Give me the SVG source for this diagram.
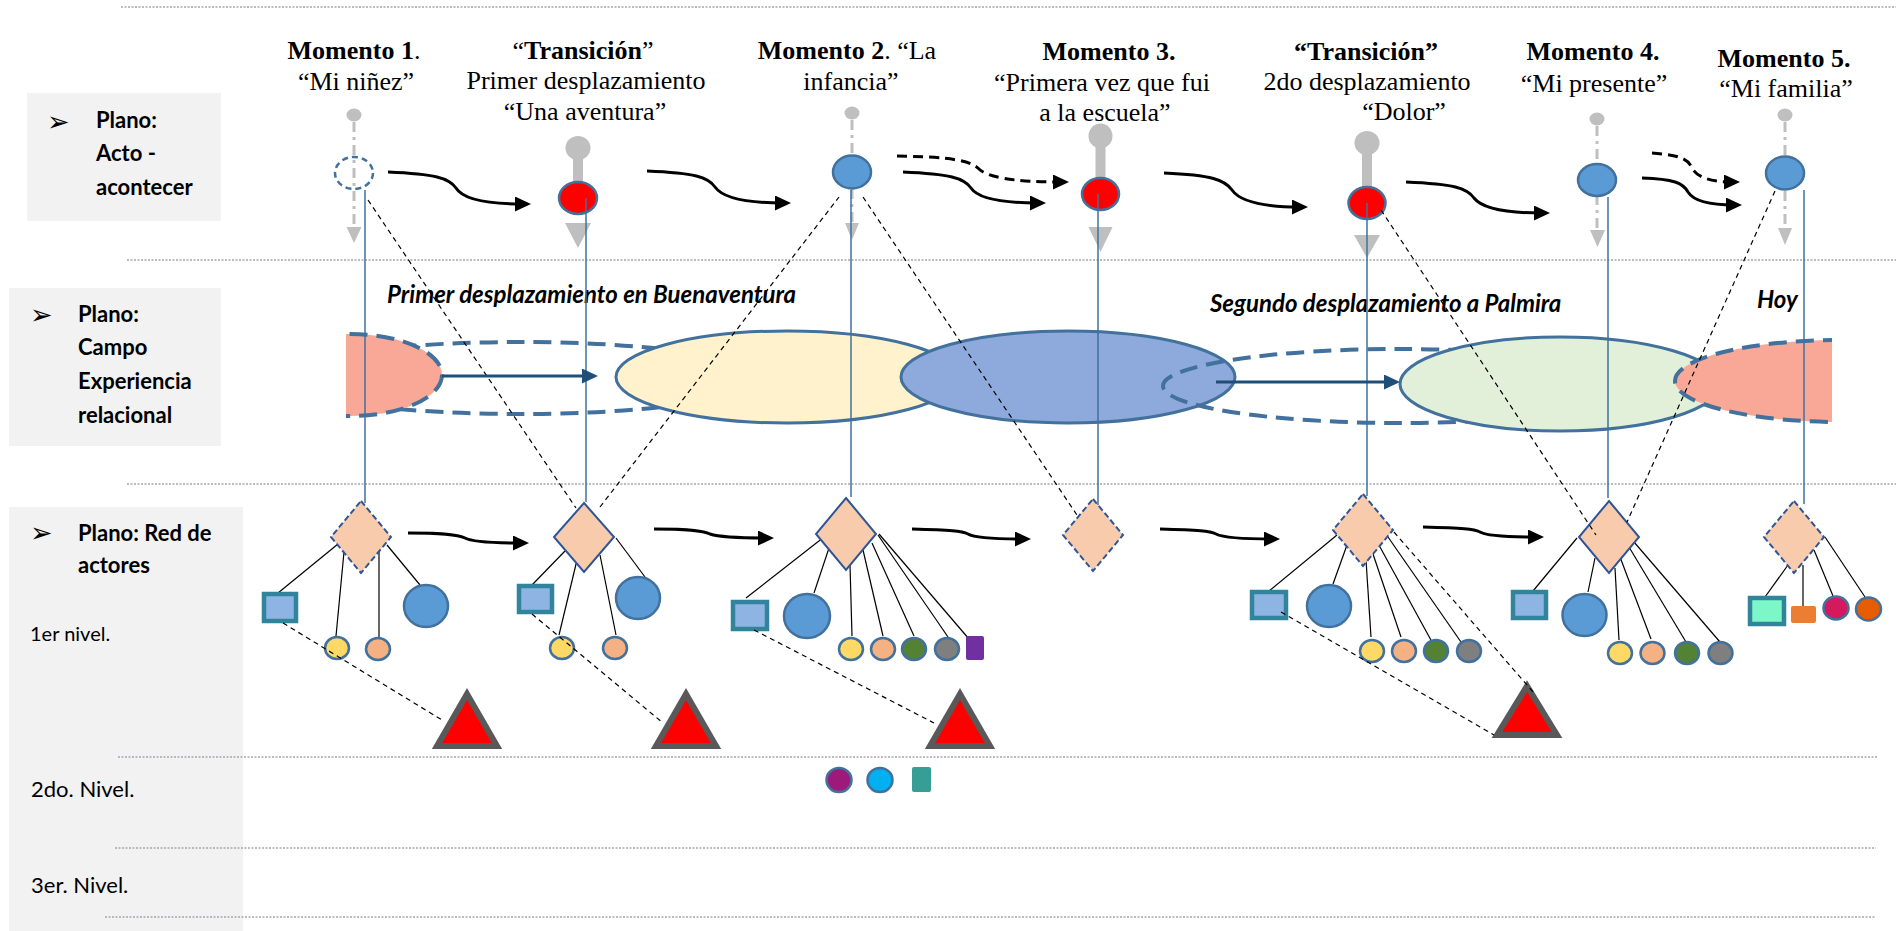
<svg xmlns="http://www.w3.org/2000/svg" width="1904" height="931" viewBox="0 0 1904 931">
<style>
.sep{stroke:#a3a7b0;stroke-width:1.3;stroke-dasharray:2 1.5;fill:none}
.panel{fill:#f2f2f2}
.side{font-family:Lato,"Liberation Sans",sans-serif;font-weight:bold;font-size:22px;fill:#000}
.lvl{font-family:Lato,"Liberation Sans",sans-serif;font-size:22px;fill:#000}
.bul{font-family:"DejaVu Sans",sans-serif;font-size:27px;fill:#000}
.hd{font-family:"Liberation Serif",serif;font-size:26px;text-anchor:middle;fill:#000}
.b{font-weight:bold}
.lab{font-family:Lato,"Liberation Sans",sans-serif;font-weight:bold;font-style:italic;font-size:24px;fill:#000}
.pinl{stroke:#bfbfbf;stroke-width:3;stroke-dasharray:10 5 3 5;fill:none}
.pin{fill:#bfbfbf}
.nR{fill:#ff0000;stroke:#41719c;stroke-width:2.5}
.nB{fill:#5b9bd5;stroke:#41719c;stroke-width:2.5}
.nD{fill:none;stroke:#41719c;stroke-width:2.5;stroke-dasharray:6 4}
.flow{fill:none;stroke:#000;stroke-width:3;marker-end:url(#ah)}
.fd{stroke-dasharray:10 6}
.bflow{fill:none;stroke:#1f4e79;stroke-width:3;marker-end:url(#ahb)}
.vl{stroke:#41719c;stroke-width:1.5;fill:none}
.tie{stroke:#000;stroke-width:1.2;fill:none}
.dl{stroke:#000;stroke-width:1.2;stroke-dasharray:5 4;fill:none}
.dia{fill:#f8cbad;stroke:#2f5597;stroke-width:2}
.dd{stroke-dasharray:6 3}
.sq{fill:#8eb4e3;stroke:#31849b;stroke-width:4.5}
.sm{stroke:#41719c;stroke-width:2.5}
.tri{fill:#ff0000;stroke:#595959;stroke-width:6;stroke-linejoin:miter}
.field{stroke:#41719c;stroke-width:3}
.fdash{fill:none;stroke:#41719c;stroke-width:4;stroke-dasharray:18 9}
</style>
<defs>
<marker id="ah" markerUnits="userSpaceOnUse" viewBox="0 0 16 15" markerWidth="16" markerHeight="15" refX="8" refY="7.5" orient="auto"><path d="M0 0 L16 7.5 L0 15 Z" fill="#000"/></marker>
<marker id="ahb" markerUnits="userSpaceOnUse" viewBox="0 0 16 15" markerWidth="16" markerHeight="15" refX="8" refY="7.5" orient="auto"><path d="M0 0 L16 7.5 L0 15 Z" fill="#1f4e79"/></marker>
<clipPath id="fieldclip"><rect x="346" y="300" width="1486" height="160"/></clipPath>
</defs>

<!-- side panels -->
<g id="panel-acto">
<rect class="panel" x="27" y="93" width="194" height="128"/>
<text class="bul" x="47" y="131">➢</text>
<text class="side" x="96" y="128">Plano:</text>
<text class="side" x="96" y="161">Acto -</text>
<text class="side" x="96" y="195">acontecer</text>
</g>
<g id="panel-campo">
<rect class="panel" x="9" y="288" width="212" height="158"/>
<text class="bul" x="30" y="324">➢</text>
<text class="side" x="78" y="322">Plano:</text>
<text class="side" x="78" y="355">Campo</text>
<text class="side" x="78" y="389">Experiencia</text>
<text class="side" x="78" y="423">relacional</text>
</g>
<g id="panel-red">
<rect class="panel" x="9" y="507" width="234" height="424"/>
<text class="bul" x="30" y="542">➢</text>
<text class="side" x="78" y="541">Plano: Red de</text>
<text class="side" x="78" y="573">actores</text>
<text class="lvl" x="30" y="641" style="font-size:20px">1er nivel.</text>
<text class="lvl" x="31" y="797">2do. Nivel.</text>
<text class="lvl" x="31" y="893">3er. Nivel.</text>
</g>

<!-- row separators -->
<g id="separators">
<line class="sep" x1="121" y1="7" x2="1896" y2="7"/>
<line class="sep" x1="127" y1="260" x2="1896" y2="260"/>
<line class="sep" x1="127" y1="484" x2="1896" y2="484"/>
<line class="sep" x1="118" y1="757" x2="1878" y2="757"/>
<line class="sep" x1="115" y1="848" x2="1876" y2="848"/>
<line class="sep" x1="105" y1="917" x2="1876" y2="917"/>
</g>

<!-- moment headings -->
<g id="headings">
<text class="hd" x="354" y="59"><tspan class="b">Momento 1</tspan>.</text>
<text class="hd" x="356" y="90">“Mi niñez”</text>
<text class="hd" x="583" y="59">“<tspan class="b">Transición</tspan>”</text>
<text class="hd" x="586" y="89">Primer desplazamiento</text>
<text class="hd" x="585" y="120">“Una aventura”</text>
<text class="hd" x="847" y="59"><tspan class="b">Momento 2</tspan>. “La</text>
<text class="hd" x="851" y="90">infancia”</text>
<text class="hd b" x="1109" y="60">Momento 3.</text>
<text class="hd" x="1102" y="91">“Primera vez que fui</text>
<text class="hd" x="1105" y="121">a la escuela”</text>
<text class="hd b" x="1366" y="60">“Transición”</text>
<text class="hd" x="1367" y="90">2do desplazamiento</text>
<text class="hd" x="1404" y="120">“Dolor”</text>
<text class="hd b" x="1593" y="60">Momento 4.</text>
<text class="hd" x="1594" y="92">“Mi presente”</text>
<text class="hd b" x="1784" y="67">Momento 5.</text>
<text class="hd" x="1786" y="97">“Mi familia”</text>
</g>

<!-- relational field plane -->
<g id="field" clip-path="url(#fieldclip)">
<ellipse class="fdash" cx="520" cy="378" rx="240" ry="36"/>
<ellipse cx="350" cy="375" rx="92" ry="41" fill="#f9a898" stroke="#41719c" stroke-width="4" stroke-dasharray="18 9"/>
<ellipse class="field" cx="787" cy="377" rx="171" ry="46" fill="#fff2cc"/>
<ellipse class="field" cx="1068" cy="377" rx="167" ry="46" fill="#8ea9db"/>
<ellipse class="fdash" cx="1400" cy="386" rx="237" ry="37"/>
<ellipse class="field" cx="1560" cy="384" rx="160" ry="47" fill="#e2f0d9"/>
<ellipse cx="1840" cy="381" rx="165" ry="41" fill="#f9a898" stroke="#41719c" stroke-width="4" stroke-dasharray="18 9"/>
</g>
<g id="field-labels">
<text class="lab" x="387" y="303">Primer desplazamiento en Buenaventura</text>
<text class="lab" x="1210" y="312">Segundo desplazamiento a Palmira</text>
<text class="lab" x="1757" y="308">Hoy</text>
</g>

<!-- event pins -->
<g id="pins">
<line class="pinl" x1="354" y1="122" x2="354" y2="226"/>
<ellipse class="pin" cx="354" cy="115" rx="7.5" ry="6.5"/>
<polygon class="pin" points="346.5,227 361.5,227 354,243"/>
<line class="pinl" x1="852" y1="120" x2="852" y2="222"/>
<ellipse class="pin" cx="852" cy="113" rx="7.5" ry="6.5"/>
<polygon class="pin" points="845,223 859,223 852,240"/>
<line class="pinl" x1="1597" y1="126" x2="1597" y2="229"/>
<ellipse class="pin" cx="1597" cy="119" rx="7.5" ry="6.5"/>
<polygon class="pin" points="1590,230 1605,230 1597.5,247"/>
<line class="pinl" x1="1785" y1="122" x2="1785" y2="227"/>
<ellipse class="pin" cx="1785" cy="115" rx="7.5" ry="6.5"/>
<polygon class="pin" points="1778,228 1792,228 1785,245"/>
<ellipse class="pin" cx="578" cy="148" rx="12.5" ry="12"/>
<rect class="pin" x="573" y="158" width="10" height="26"/>
<polygon class="pin" points="565,223 591,223 578,248"/>
<ellipse class="pin" cx="1100.5" cy="136" rx="12" ry="12.5"/>
<rect class="pin" x="1095.5" y="146" width="10" height="33"/>
<polygon class="pin" points="1088.5,227 1112.5,227 1100.5,252"/>
<ellipse class="pin" cx="1367" cy="143" rx="12.5" ry="12"/>
<rect class="pin" x="1362" y="153" width="10" height="36"/>
<polygon class="pin" points="1354,235 1380,235 1367,258"/>
</g>

<!-- event nodes -->
<g id="m1-event"><ellipse class="nD" cx="354" cy="173" rx="19" ry="16"/></g>
<g id="t1-event"><ellipse class="nR" cx="578" cy="198" rx="19" ry="16"/></g>
<g id="m2-event"><ellipse class="nB" cx="852" cy="172" rx="19" ry="16.5"/></g>
<g id="m3-event"><ellipse class="nR" cx="1100.5" cy="194" rx="18.5" ry="16"/></g>
<g id="t2-event"><ellipse class="nR" cx="1367" cy="203" rx="18.5" ry="16"/></g>
<g id="m4-event"><ellipse class="nB" cx="1597" cy="180" rx="19" ry="16"/></g>
<g id="m5-event"><ellipse class="nB" cx="1785" cy="173" rx="19" ry="16.5"/></g>

<!-- actor networks -->
<g id="net1">
<g class="tie"><line x1="338" y1="544" x2="278" y2="593"/><line x1="344" y1="552" x2="336" y2="636"/><line x1="379" y1="548" x2="379" y2="637"/><line x1="387" y1="545" x2="420" y2="585"/></g>
<path class="dia dd" d="M361 501 L391 537 L361 573 L331 537 Z"/>
<rect class="sq" x="264" y="594" width="32" height="27"/>
<ellipse class="sm" cx="337" cy="648" rx="12" ry="11" fill="#ffd966"/>
<ellipse class="sm" cx="378" cy="649" rx="12" ry="11" fill="#f4b183"/>
<ellipse class="nB" cx="426" cy="606" rx="22" ry="21"/>
<polygon class="tri" points="467,694 437,746 497,746"/>
</g>
<g id="net2">
<g class="tie"><line x1="565" y1="551" x2="532" y2="585"/><line x1="577" y1="560" x2="559" y2="635"/><line x1="600" y1="555" x2="616" y2="635"/><line x1="616" y1="538" x2="645" y2="577"/></g>
<path class="dia" d="M584 503 L614 537 L584 572 L554 537 Z"/>
<rect class="sq" x="519" y="586" width="33" height="26"/>
<ellipse class="sm" cx="562" cy="648" rx="12" ry="11" fill="#ffd966"/>
<ellipse class="sm" cx="615" cy="648" rx="12" ry="11" fill="#f4b183"/>
<ellipse class="nB" cx="638" cy="598" rx="22" ry="21"/>
<polygon class="tri" points="686,694 656,746 716,746"/>
</g>
<g id="net3">
<g class="tie"><line x1="824" y1="537" x2="746" y2="598"/><line x1="829" y1="548" x2="814" y2="593"/><line x1="850" y1="565" x2="852" y2="636"/><line x1="863" y1="550" x2="883" y2="636"/><line x1="872" y1="543" x2="914" y2="636"/><line x1="878" y1="535" x2="948" y2="637"/><line x1="879" y1="534" x2="969" y2="639"/></g>
<path class="dia" d="M846 498 L876 534 L846 570 L816 534 Z"/>
<rect class="sq" x="733" y="602" width="34" height="27"/>
<ellipse class="nB" cx="807" cy="616" rx="23" ry="22"/>
<ellipse class="sm" cx="851" cy="649" rx="12" ry="11" fill="#ffd966"/>
<ellipse class="sm" cx="883" cy="649" rx="12" ry="11" fill="#f4b183"/>
<ellipse class="sm" cx="914" cy="649" rx="12" ry="11" fill="#548235"/>
<ellipse class="sm" cx="947" cy="649" rx="12" ry="11" fill="#7f7f7f"/>
<rect x="966" y="636" width="18" height="24" rx="2" fill="#7030a0"/>
<polygon class="tri" points="960,694 930,746 990,746"/>
</g>
<g id="net3-level2">
<ellipse class="sm" cx="839" cy="780" rx="12.5" ry="12" fill="#9e1a7a"/>
<ellipse class="sm" cx="880" cy="780" rx="12.5" ry="12" fill="#00b0f0"/>
<rect x="912" y="767" width="19" height="25" rx="2" fill="#379e96"/>
</g>
<g id="net4">
<path class="dia dd" d="M1093 499 L1123 535 L1093 571 L1063 535 Z"/>
</g>
<g id="net5">
<g class="tie"><line x1="1337" y1="535" x2="1269" y2="591"/><line x1="1347" y1="545" x2="1333" y2="584"/><line x1="1366" y1="560" x2="1371" y2="637"/><line x1="1373" y1="554" x2="1401" y2="637"/><line x1="1380" y1="547" x2="1432" y2="642"/><line x1="1388" y1="537" x2="1461" y2="642"/></g>
<path class="dia dd" d="M1363 494 L1393 530 L1363 566 L1333 530 Z"/>
<rect class="sq" x="1252" y="592" width="34" height="26"/>
<ellipse class="nB" cx="1329" cy="606" rx="22" ry="21"/>
<ellipse class="sm" cx="1372" cy="651" rx="12" ry="11" fill="#ffd966"/>
<ellipse class="sm" cx="1404" cy="651" rx="12" ry="11" fill="#f4b183"/>
<ellipse class="sm" cx="1436" cy="651" rx="12" ry="11" fill="#548235"/>
<ellipse class="sm" cx="1469" cy="651" rx="12" ry="11" fill="#7f7f7f"/>
<polygon class="tri" points="1527,686 1497,735 1557,735"/>
</g>
<g id="net6">
<g class="tie"><line x1="1577" y1="538" x2="1533" y2="591"/><line x1="1595" y1="558" x2="1588" y2="592"/><line x1="1615" y1="568" x2="1619" y2="640"/><line x1="1620" y1="557" x2="1651" y2="639"/><line x1="1629" y1="547" x2="1686" y2="642"/><line x1="1634" y1="542" x2="1720" y2="642"/></g>
<path class="dia" d="M1609 501 L1639 537 L1609 573 L1579 537 Z"/>
<rect class="sq" x="1513" y="592" width="33" height="26"/>
<ellipse class="nB" cx="1584.5" cy="615" rx="22" ry="21"/>
<ellipse class="sm" cx="1620" cy="653" rx="12" ry="11" fill="#ffd966"/>
<ellipse class="sm" cx="1652.5" cy="653" rx="12" ry="11" fill="#f4b183"/>
<ellipse class="sm" cx="1687" cy="653" rx="12" ry="11" fill="#548235"/>
<ellipse class="sm" cx="1720.5" cy="653" rx="12" ry="11" fill="#7f7f7f"/>
</g>
<g id="net7">
<g class="tie"><line x1="1788" y1="565" x2="1765" y2="597"/><line x1="1803" y1="565" x2="1803" y2="606"/><line x1="1814" y1="550" x2="1833" y2="596"/><line x1="1825" y1="537" x2="1865" y2="597"/></g>
<path class="dia dd" d="M1794 501 L1824 537 L1794 573 L1764 537 Z"/>
<rect x="1750" y="598" width="34" height="26" fill="#7cf8c8" stroke="#31849b" stroke-width="4.5"/>
<rect x="1791" y="606" width="25" height="17" rx="2" fill="#ed7d31"/>
<ellipse class="sm" cx="1836" cy="608" rx="12.5" ry="11.5" fill="#d5195e"/>
<ellipse class="sm" cx="1868.5" cy="609" rx="12.5" ry="11.5" fill="#e65c00"/>
</g>

<!-- connectors -->
<g id="connectors">
<g class="vl">
<line x1="365" y1="190" x2="365" y2="503"/>
<line x1="586" y1="198" x2="586" y2="502"/>
<line x1="851" y1="190" x2="851" y2="497"/>
<line x1="1098" y1="194" x2="1098" y2="505"/>
<line x1="1367" y1="203" x2="1367" y2="496"/>
<line x1="1608" y1="197" x2="1608" y2="498"/>
<line x1="1804" y1="190" x2="1804" y2="504"/>
</g>
<g class="dl">
<line x1="368" y1="200" x2="576" y2="508"/>
<line x1="600" y1="507" x2="839" y2="197"/>
<line x1="863" y1="197" x2="1079" y2="518"/>
<line x1="1381" y1="210" x2="1596" y2="535"/>
<line x1="1775" y1="191" x2="1627" y2="522"/>
<line x1="1394" y1="532" x2="1534" y2="693"/>
<line x1="283" y1="623" x2="442" y2="720"/>
<line x1="532" y1="614" x2="663" y2="723"/>
<line x1="754" y1="630" x2="934" y2="723"/>
<line x1="1281" y1="612" x2="1494" y2="735"/>
</g>
<path class="flow" d="M388 172 C435 174 449 178 456 188 C462 198 483 204 523 204"/>
<path class="flow" d="M647 171 C695 173 708 177 715 187 C722 197 742 203 783 203"/>
<path class="flow fd" d="M897 156 C954 157 971 161 979 169 C987 177 1012 182 1061 182"/>
<path class="flow" d="M903 172 C950 174 964 178 971 188 C977 197 998 203 1038 203"/>
<path class="flow" d="M1164 173 C1212 175 1225 180 1232 190 C1239 200 1259 207 1300 207"/>
<path class="flow" d="M1406 182 C1454 184 1467 188 1474 198 C1481 207 1501 213 1542 213"/>
<path class="flow fd" d="M1652 153 C1680 155 1688 159 1692 168 C1696 176 1708 182 1732 182"/>
<path class="flow" d="M1642 178 C1674 179 1683 183 1688 192 C1693 200 1706 205 1734 205"/>
<path class="bflow" d="M442 376 L590 376"/>
<path class="bflow" d="M1216 382 L1392 382"/>
<path class="flow" d="M408 533 C448 533 459 535 465 538 C470 541 487 543 521 543"/>
<path class="flow" d="M654 529 C693 529 704 531 710 534 C716 536 732 538 766 538"/>
<path class="flow" d="M912 529 C951 530 962 531 968 534 C973 537 990 539 1023 539"/>
<path class="flow" d="M1160 529 C1199 530 1210 531 1216 534 C1222 537 1238 539 1272 539"/>
<path class="flow" d="M1423 527 C1463 528 1474 529 1480 532 C1485 535 1502 537 1536 537"/>
</g>
</svg>
